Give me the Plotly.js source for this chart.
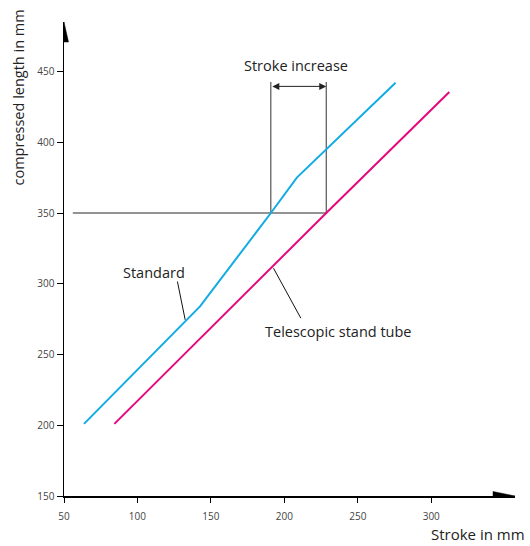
<!DOCTYPE html>
<html>
<head>
<meta charset="utf-8">
<script src="https://cdn.plot.ly/plotly-3.0.1.min.js"></script>
<style>html,body{margin:0;padding:0;background:#fff;}#chart{width:530px;height:546px;}</style>
</head>
<body>
<div id="chart"></div>
<script>
// Data
const standardX = [63.6, 142.6, 190.8, 208.5, 275.7];
const standardY = [201, 284, 350, 375, 442];
const telescopicX = [84.3, 228.5, 312.3];
const telescopicY = [201, 350, 435.5];
const levelX = [56, 228.5];
const levelY = [350, 350];
const strokeStartX = [190.8, 190.8];
const strokeEndX = [228.5, 228.5];
const strokeLineY = [350, 442.6];
const strokeArrowY = 439.5;
const standardLeaderX = [127.2, 132.5];
const standardLeaderY = [301.6, 274.5];
const telescopicLeaderX = [192.6, 211.2];
const telescopicLeaderY = [311, 275.7];
const xTicks = [50, 100, 150, 200, 250, 300];
const yTicks = [150, 200, 250, 300, 350, 400, 450];
const xRange = [50, 357];
const yRange = [150, 485];

const FONT = '"Open Sans", "Noto Sans", sans-serif';
const cyan = '#12ACE4';
const magenta = '#E4097E';

const traces = [
  {x: levelX, y: levelY, mode: 'lines', line: {color: '#6f6f6f', width: 1.5}, hoverinfo: 'skip'},
  {x: strokeStartX, y: strokeLineY, mode: 'lines', line: {color: '#333', width: 1}, hoverinfo: 'skip'},
  {x: strokeEndX, y: strokeLineY, mode: 'lines', line: {color: '#333', width: 1}, hoverinfo: 'skip'},
  {x: standardLeaderX, y: standardLeaderY, mode: 'lines', line: {color: '#111', width: 1}, hoverinfo: 'skip'},
  {x: telescopicLeaderX, y: telescopicLeaderY, mode: 'lines', line: {color: '#111', width: 1}, hoverinfo: 'skip'},
  {x: standardX, y: standardY, mode: 'lines', name: 'Standard', line: {color: cyan, width: 2}},
  {x: telescopicX, y: telescopicY, mode: 'lines', name: 'Telescopic stand tube', line: {color: magenta, width: 2}}
];

const layout = {
  width: 530, height: 546,
  margin: {l: 64, r: 15, t: 22, b: 50},
  paper_bgcolor: '#fff', plot_bgcolor: '#fff',
  showlegend: false,
  font: {family: FONT, color: '#333'},
  xaxis: {
    range: xRange, tickvals: xTicks, ticktext: xTicks.map(String),
    showgrid: false, zeroline: false, showline: true, linecolor: '#000', linewidth: 1.5,
    ticks: 'outside', ticklen: 5, tickcolor: '#000', tickwidth: 1, ticklabelstandoff: 5,
    tickfont: {size: 10, color: '#444', family: FONT}
  },
  yaxis: {
    range: yRange, tickvals: yTicks, ticktext: yTicks.map(String),
    showgrid: false, zeroline: false, showline: true, linecolor: '#000', linewidth: 1.5,
    ticks: 'outside', ticklen: 6, tickcolor: '#000', tickwidth: 1,
    tickfont: {size: 10, color: '#444', family: FONT}
  },
  shapes: [
    {type: 'path', xref: 'x', yref: 'y', xsizemode: 'pixel', ysizemode: 'pixel',
     xanchor: xRange[1], yanchor: yRange[0], path: 'M -22,4.5 L 0,0 L -22,-4.5 Z',
     fillcolor: '#000', line: {color: '#000', width: 0.5}},
    {type: 'path', xref: 'x', yref: 'y', xsizemode: 'pixel', ysizemode: 'pixel',
     xanchor: xRange[0], yanchor: yRange[1], path: 'M -4.5,-20 L 0,0 L 4.5,-20 Z',
     fillcolor: '#000', line: {color: '#000', width: 0.5}}
  ],
  annotations: [
    {x: strokeEndX[0], y: strokeArrowY, ax: strokeStartX[0], ay: strokeArrowY, axref: 'x', ayref: 'y',
     xref: 'x', yref: 'y', text: '', showarrow: true, arrowside: 'end+start', arrowhead: 2,
     arrowsize: 1.4, arrowwidth: 1, arrowcolor: '#222', standoff: 0, startstandoff: 0},
    {x: 208, y: 454, xref: 'x', yref: 'y', text: 'Stroke increase', showarrow: false,
     font: {size: 14.5, color: '#222', family: FONT}},
    {x: 111, y: 308, xref: 'x', yref: 'y', text: 'Standard', showarrow: false,
     font: {size: 14.5, color: '#222', family: FONT}},
    {x: 236.6, y: 266, xref: 'x', yref: 'y', text: 'Telescopic stand tube', showarrow: false,
     font: {size: 14.5, color: '#222', family: FONT}},
    {x: 1.027, y: -0.081, xref: 'paper', yref: 'paper', xanchor: 'right', yanchor: 'middle',
     text: 'Stroke in mm', showarrow: false, font: {size: 15, color: '#222', family: FONT}},
    {x: -0.0998, y: 0.8407, xref: 'paper', yref: 'paper', xanchor: 'center', yanchor: 'middle',
     textangle: -90, text: 'compressed length in mm', showarrow: false,
     font: {size: 14.5, color: '#222', family: FONT}}
  ]
};

Plotly.newPlot('chart', traces, layout, {staticPlot: true, displayModeBar: false});
</script>
</body>
</html>
